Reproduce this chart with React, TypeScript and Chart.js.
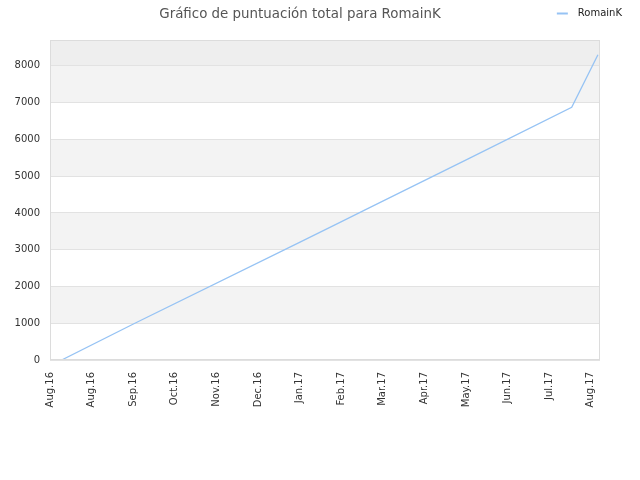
import React, { useEffect, useRef } from "react";
import { Chart, registerables } from "chart.js";

Chart.register(...registerables);

const chartTitle = "Gráfico de puntuación total para RomainK";
const seriesName = "RomainK";

// x tick labels (one per month tick)
const xTickLabels = [
  "Aug.16", "Aug.16", "Sep.16", "Oct.16", "Nov.16", "Dec.16", "Jan.17",
  "Feb.17", "Mar.17", "Apr.17", "May.17", "Jun.17", "Jul.17", "Aug.17",
];
// position of each point in units of tick intervals
const xPositions = [0.28, 2.04, 6.01, 6.97, 7.61, 10.1, 12.54, 13.17];
// total score
const scores = [0, 1000, 3207, 3744, 4105, 5496, 6870, 8300];

const yTicks = [0, 1000, 2000, 3000, 4000, 5000, 6000, 7000, 8000];
const yMax = 8700;
const xMax = 13.22;

const FONT = "'DejaVu Sans', sans-serif";
const LINE_COLOR = "#96c3f4";

const bandsPlugin = {
  id: "bands",
  beforeDraw(chart: any) {
    const { ctx, chartArea, scales } = chart;
    const y = scales.y;
    ctx.save();
    ctx.fillStyle = "#ffffff";
    ctx.fillRect(chartArea.left, chartArea.top, chartArea.right - chartArea.left, chartArea.bottom - chartArea.top);
    const bounds = [...yTicks, yMax];
    for (let i = 0; i < bounds.length - 1; i++) {
      const top = y.getPixelForValue(bounds[i + 1]);
      const bot = y.getPixelForValue(bounds[i]);
      let color: string | null = null;
      if (i === bounds.length - 2) color = "#eeeeee";
      else if (i % 2 === 1) color = "#f3f3f3";
      if (color) {
        ctx.fillStyle = color;
        ctx.fillRect(chartArea.left, top, chartArea.right - chartArea.left, bot - top);
      }
    }
    ctx.restore();
  },
  afterDraw(chart: any) {
    const { ctx, chartArea } = chart;
    ctx.save();
    ctx.strokeStyle = "#dcdcdc";
    ctx.lineWidth = 1;
    ctx.strokeRect(
      Math.round(chartArea.left) + 0.5,
      Math.round(chartArea.top) + 0.5,
      Math.round(chartArea.right - chartArea.left) - 1,
      Math.round(chartArea.bottom - chartArea.top) - 1
    );
    // legend
    ctx.font = `10px ${FONT}`;
    ctx.textBaseline = "middle";
    ctx.textAlign = "left";
    const label = chart.data.datasets[0].label;
    const w = ctx.measureText(label).width;
    const textRight = chart.width - 18;
    const textLeft = textRight - w;
    const ly = 13.5;
    ctx.strokeStyle = LINE_COLOR;
    ctx.lineWidth = 2;
    ctx.beginPath();
    ctx.moveTo(textLeft - 21, ly);
    ctx.lineTo(textLeft - 10, ly);
    ctx.stroke();
    ctx.fillStyle = "#222222";
    ctx.fillText(label, textLeft, ly);
    ctx.restore();
  },
};

export default function App() {
  const ref = useRef<HTMLCanvasElement | null>(null);

  useEffect(() => {
    if (!ref.current) return;
    const chart = new Chart(ref.current, {
      type: "line",
      data: {
        datasets: [
          {
            label: seriesName,
            data: xPositions.map((x, i) => ({ x, y: scores[i] })),
            borderColor: LINE_COLOR,
            backgroundColor: LINE_COLOR,
            borderWidth: 1.3,
            pointRadius: 0,
            tension: 0,
            fill: false,
          },
        ],
      },
      options: {
        animation: false,
        responsive: true,
        maintainAspectRatio: false,
        layout: { padding: { left: 0, right: 40, top: 0, bottom: 0 } },
        plugins: {
          legend: { display: false },
          tooltip: { enabled: false },
          title: {
            display: true,
            text: chartTitle,
            color: "#555555",
            font: { family: FONT, size: 13.4, weight: "normal" },
            padding: { top: 6, bottom: 18 },
          },
        },
        scales: {
          x: {
            type: "linear",
            min: 0,
            max: xMax,
            afterBuildTicks: (scale: any) => {
              scale.ticks = xTickLabels.map((_, i) => ({ value: i }));
            },
            afterFit: (scale: any) => {
              scale.height = 120;
            },
            ticks: {
              autoSkip: false,
              minRotation: 90,
              maxRotation: 90,
              padding: 12,
              color: "#333333",
              font: { family: FONT, size: 10 },
              callback: (_v: any, i: number) => xTickLabels[i],
            },
            grid: { display: false, drawTicks: false },
            border: { display: false },
          },
          y: {
            type: "linear",
            min: 0,
            max: yMax,
            afterBuildTicks: (scale: any) => {
              scale.ticks = yTicks.map((v) => ({ value: v }));
            },
            afterFit: (scale: any) => {
              scale.width = 50;
            },
            ticks: {
              padding: 10,
              color: "#333333",
              font: { family: FONT, size: 10 },
              callback: (v: any) => String(v),
            },
            grid: { color: "#e2e2e2", drawTicks: false, lineWidth: 1 },
            border: { display: false },
          },
        },
      },
      plugins: [bandsPlugin],
    });
    return () => chart.destroy();
  }, []);

  return (
    <div style={{ position: "absolute", left: 0, top: 0, width: 640, height: 480, background: "#fff" }}>
      <canvas ref={ref} />
    </div>
  );
}
